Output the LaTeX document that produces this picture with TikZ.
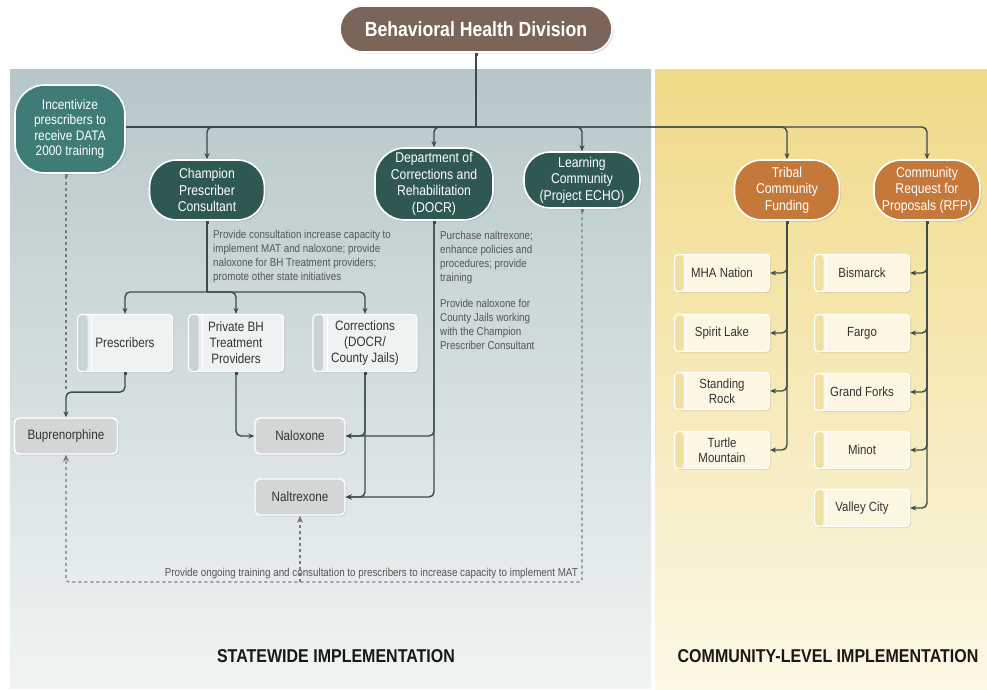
\documentclass[tikz,border=0pt]{standalone}
\usepackage{fontspec}
\setmainfont[FakeStretch=0.86]{Liberation Sans}
\usetikzlibrary{arrows.meta,shadows,calc}
\definecolor{brownC}{HTML}{7B6558}
\definecolor{tealD}{HTML}{2F5853}
\definecolor{tealL}{HTML}{3F7B77}
\definecolor{orangeC}{HTML}{C4783A}
\definecolor{lineC}{HTML}{3A4B4B}
\definecolor{dashC}{HTML}{7A7A7A}
\definecolor{noteC}{HTML}{555555}
\definecolor{grayBox}{HTML}{D3D6D6}
\definecolor{wFill}{HTML}{EEF2F2}
\definecolor{wStrip}{HTML}{CAD3D3}
\definecolor{cFill}{HTML}{FCF6E3}
\definecolor{cStrip}{HTML}{EFE1A4}
\tikzset{
  pill/.style={draw=white, line width=1.6pt, text=white, align=center, inner sep=0pt,
    font=\fontsize{14.2}{16.5}\selectfont,
    drop shadow={opacity=0.3, shadow xshift=1.5pt, shadow yshift=-1.5pt}},
  wbox/.style={draw=white, line width=1.2pt, rounded corners=4pt, align=center, inner sep=0pt,
    minimum width=95pt, minimum height=57pt, fill=wFill,
    path picture={\fill[wStrip]
        (path picture bounding box.south west) rectangle ([xshift=10pt]path picture bounding box.north west);
      \draw[white, line width=0.8pt] ([xshift=14pt]path picture bounding box.south west) -- ([xshift=14pt]path picture bounding box.north west);},
    text=black!80, font=\fontsize{13.6}{16}\selectfont,
    drop shadow={opacity=0.2, shadow xshift=1.5pt, shadow yshift=-1.5pt}},
  gbox/.style={draw=white, line width=1.4pt, rounded corners=5pt, align=center, inner sep=0pt,
    minimum width=95pt, minimum height=36pt, fill=grayBox, text=black!80,
    font=\fontsize{13.6}{16}\selectfont,
    drop shadow={opacity=0.2, shadow xshift=1.5pt, shadow yshift=-1.5pt}},
  cbox/.style={draw=white, line width=1.2pt, rounded corners=4pt, align=center, inner sep=0pt,
    minimum width=95pt, minimum height=37pt, fill=cFill,
    path picture={\fill[cStrip]
        (path picture bounding box.south west) rectangle ([xshift=9pt]path picture bounding box.north west);
      \draw[white, line width=0.8pt] ([xshift=12pt]path picture bounding box.south west) -- ([xshift=12pt]path picture bounding box.north west);},
    text=black!80, font=\fontsize{13.3}{15}\selectfont,
    drop shadow={opacity=0.2, shadow xshift=1.5pt, shadow yshift=-1.5pt}},
  conn/.style={draw=lineC, line width=1.4pt, rounded corners=5pt,
    -{Stealth[length=6pt,width=5pt]}},
  sconn/.style={draw=lineC, line width=1.4pt, rounded corners=5pt,
    {Square[length=3pt,width=3pt]}-{Stealth[length=6pt,width=5pt]}},
  plain/.style={draw=lineC, line width=1.4pt, rounded corners=5pt},
  dconn/.style={draw=dashC, line width=1.1pt, dashed, rounded corners=3pt},
  note/.style={text=noteC, align=left, inner sep=0pt, font=\fontsize{11.4}{14}\selectfont},
  bigl/.style={font=\bfseries\fontsize{18.6}{22}\selectfont, text=black!90}
}
\begin{document}
\begin{tikzpicture}[x=1pt,y=-1pt]
\useasboundingbox (0,0) rectangle (987,690);
\fill[white] (0,0) rectangle (987,690);
% panels
\shade[top color={rgb,255:red,183;green,199;blue,201}, bottom color={rgb,255:red,240;green,244;blue,244}] (10,70) rectangle (651,688);
\shade[top color={rgb,255:red,240;green,218;blue,135}, bottom color={rgb,255:red,252;green,248;blue,230}] (655,70) rectangle (987,690);

% top
\node[pill, fill=brownC, rounded corners=23pt, minimum width=272pt, minimum height=46pt,
  font=\bfseries\fontsize{20.5}{24}\selectfont] (bhd) at (476,29) {Behavioral Health Division};

% level 1
\node[pill, fill=tealL, rounded corners=30pt, minimum width=110pt, minimum height=88pt,
  font=\fontsize{13.8}{15.6}\selectfont] (inc) at (70,129)
  {Incentivize\\prescribers to\\receive DATA\\2000 training};
\node[pill, fill=tealD, rounded corners=27pt, minimum width=115pt, minimum height=60pt] (champ) at (207,190)
  {Champion\\Prescriber\\Consultant};
\node[pill, fill=tealD, rounded corners=30pt, minimum width=118pt, minimum height=72pt] (docr) at (434,184)
  {Department of\\Corrections and\\Rehabilitation\\(DOCR)};
\node[pill, fill=tealD, rounded corners=26pt, minimum width=116pt, minimum height=56pt] (learn) at (582,180)
  {Learning\\Community\\(Project ECHO)};
\node[pill, fill=orangeC, rounded corners=27pt, minimum width=105pt, minimum height=60pt] (tribal) at (787,190)
  {Tribal\\Community\\Funding};
\node[pill, fill=orangeC, rounded corners=27pt, minimum width=106pt, minimum height=60pt] (rfp) at (927,190)
  {Community\\Request for\\Proposals (RFP)};

% bus
\coordinate (J) at (476,127);
\draw[plain, {Square[length=3pt,width=3pt]}-] (bhd.south) -- (J);
\draw[plain] (inc.east |- J) -- (J);
\draw[conn] (J) -| (champ.north);
\draw[conn] (J) -| (docr.north);
\draw[conn] (J) -| (learn.north);
\draw[conn] (J) -| (tribal.north);
\draw[conn] (J) -| (rfp.north);

% level 2 statewide
\node[wbox] (presc) at (125,343) {Prescribers};
\node[wbox] (privbh) at (236,343) {Private BH\\Treatment\\Providers};
\node[wbox, minimum width=104pt] (corr) at (365,343) {Corrections\\(DOCR/\\County Jails)};
\coordinate (C) at (207,292);
\draw[plain, {Square[length=3pt,width=3pt]}-] (champ.south) -- (C);
\draw[conn] (C) -| (presc.north);
\draw[conn] (C) -| (privbh.north);
\draw[conn] (C) -| (corr.north);

\node[note, anchor=north west] (n1) at (213,230)
  {Provide consultation increase capacity to\\implement MAT and naloxone; provide\\naloxone for BH Treatment providers;\\promote other state initiatives};
\node[note, anchor=north west] (n2) at (440,231)
  {Purchase naltrexone;\\enhance policies and\\procedures; provide\\training};
\node[note, anchor=north west] (n3) at (440,299)
  {Provide naloxone for\\County Jails working\\with the Champion\\Prescriber Consultant};

% drugs
\node[gbox, minimum width=103pt] (bup) at (66,436) {Buprenorphine};
\node[gbox, minimum width=90pt] (nalox) at (300,436) {Naloxone};
\node[gbox, minimum width=90pt] (naltr) at (300,497) {Naltrexone};

\coordinate (PB) at (66,392);
\draw[dconn, {Square[length=3pt,width=3pt]}-] (bup.north |- inc.south) -- (PB);
\draw[sconn] (presc.south) -- ++(0,20) -| (bup.north);
\draw[sconn] (privbh.south) |- (nalox.west);
\draw[sconn] (corr.south) |- (nalox.east);
\draw[sconn] (corr.south) |- (naltr.east);
\draw[sconn] (docr.south) |- (nalox.east);
\draw[sconn] (docr.south) |- (naltr.east);

% dashed bottom loop
\coordinate (BR) at (582,582);
\coordinate (BL) at (66,582);
\draw[dconn, {Square[length=3pt,width=3pt]}-{Stealth[length=7pt,width=6pt]}] (learn.south) -- (BR) -- (BL) -- (bup.south);
\draw[dconn, -{Stealth[length=7pt,width=6pt]}] (naltr.south |- BL) -- (naltr.south);
\node[note, anchor=south east] (n4) at (578,579)
  {Provide ongoing training and consultation to prescribers to increase capacity to implement MAT};

% community boxes
\node[cbox] (mha) at (722,273) {MHA Nation};
\node[cbox] (spirit) at (722,333) {Spirit Lake};
\node[cbox] (stand) at (722,391) {Standing\\Rock};
\node[cbox] (turtle) at (722,450) {Turtle\\Mountain};
\draw[sconn] (tribal.south) |- (mha.east);
\draw[sconn] (tribal.south) |- (spirit.east);
\draw[sconn] (tribal.south) |- (stand.east);
\draw[sconn] (tribal.south) |- (turtle.east);

\node[cbox] (bis) at (862,273) {Bismarck};
\node[cbox] (fargo) at (862,333) {Fargo};
\node[cbox] (gf) at (862,392) {Grand Forks};
\node[cbox] (minot) at (862,450) {Minot};
\node[cbox] (vc) at (862,508) {Valley City};
\draw[sconn] (rfp.south) |- (bis.east);
\draw[sconn] (rfp.south) |- (fargo.east);
\draw[sconn] (rfp.south) |- (gf.east);
\draw[sconn] (rfp.south) |- (minot.east);
\draw[sconn] (rfp.south) |- (vc.east);

% bottom labels
\node[bigl] (sw) at (336,656) {STATEWIDE IMPLEMENTATION};
\node[bigl] (cl) at (828,656) {COMMUNITY-LEVEL IMPLEMENTATION};
\end{tikzpicture}
\end{document}
